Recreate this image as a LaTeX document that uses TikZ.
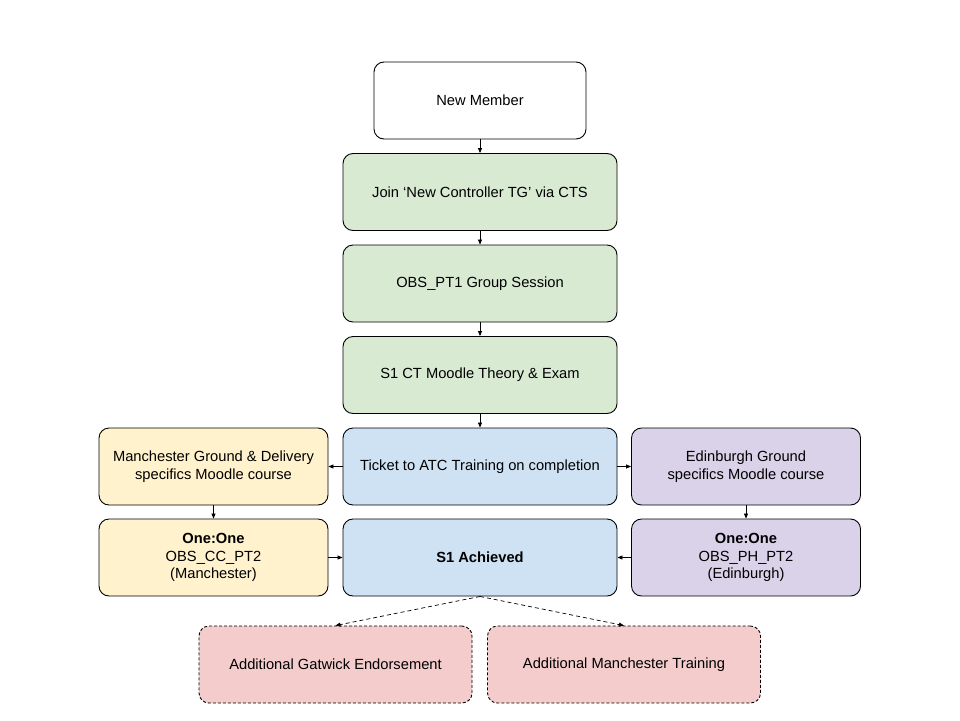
\documentclass[tikz,border=0pt]{standalone}
\usepackage{fontspec}
\setmainfont{Liberation Sans}
\usetikzlibrary{arrows.meta}
\definecolor{cgreen}{HTML}{D9EAD3}
\definecolor{cblue}{HTML}{CFE2F3}
\definecolor{cyellow}{HTML}{FFF2CC}
\definecolor{cpurple}{HTML}{D9D2E9}
\definecolor{cred}{HTML}{F4CCCC}
\begin{document}
\begin{tikzpicture}[x=1pt,y=-1pt,
  box/.style={draw=black,line width=0.9pt,rounded corners=10pt,align=center,
    font=\fontsize{14.7}{17.8}\selectfont,inner sep=0pt},
  wide/.style={box,minimum width=274pt,minimum height=77pt},
  side/.style={box,minimum width=229pt,minimum height=77pt},
  dbox/.style={box,dash pattern=on 3pt off 2pt,fill=cred,minimum width=273pt,minimum height=77pt},
  arr/.style={draw=black,line width=0.7pt,-{Triangle[length=5pt,width=4pt]}},
  darr/.style={arr,dash pattern=on 4pt off 3pt}]
\useasboundingbox (0,0) rectangle (960,720);
\node[box,fill=white,minimum width=212pt,minimum height=77pt] (nm) at (480,100.5) {New Member};
\node[wide,fill=cgreen] (join) at (480,192) {Join ‘New Controller TG’ via CTS};
\node[wide,fill=cgreen] (pt1) at (480,283.5) {OBS\_PT1 Group Session};
\node[wide,fill=cgreen] (s1ct) at (480,375) {S1 CT Moodle Theory \& Exam};
\node[wide,fill=cblue] (ticket) at (480,466.5) {Ticket to ATC Training on completion};
\node[side,fill=cyellow] (mang) at (213.5,466.5) {Manchester Ground \& Delivery\\specifics Moodle course};
\node[side,fill=cpurple] (edig) at (746,466.5) {Edinburgh Ground\\specifics Moodle course};
\node[side,fill=cyellow] (man1) at (213.5,557.5) {\textbf{One:One}\\OBS\_CC\_PT2\\(Manchester)};
\node[wide,fill=cblue] (s1a) at (480,557.5) {\textbf{S1 Achieved}};
\node[side,fill=cpurple] (edi1) at (746,557.5) {\textbf{One:One}\\OBS\_PH\_PT2\\(Edinburgh)};
\node[dbox] (gat) at (335.5,664.5) {Additional Gatwick Endorsement};
\node[dbox] (mant) at (624,664.5) {Additional Manchester Training};
\draw[arr] (nm) -- (join);
\draw[arr] (join) -- (pt1);
\draw[arr] (pt1) -- (s1ct);
\draw[arr] (s1ct) -- (ticket);
\draw[arr] (ticket) -- (mang);
\draw[arr] (ticket) -- (edig);
\draw[arr] (mang) -- (man1);
\draw[arr] (edig) -- (edi1);
\draw[arr] (man1) -- (s1a);
\draw[arr] (edi1) -- (s1a);
\draw[darr] (s1a.south) -- (gat.north);
\draw[darr] (s1a.south) -- (mant.north);
\end{tikzpicture}
\end{document}
